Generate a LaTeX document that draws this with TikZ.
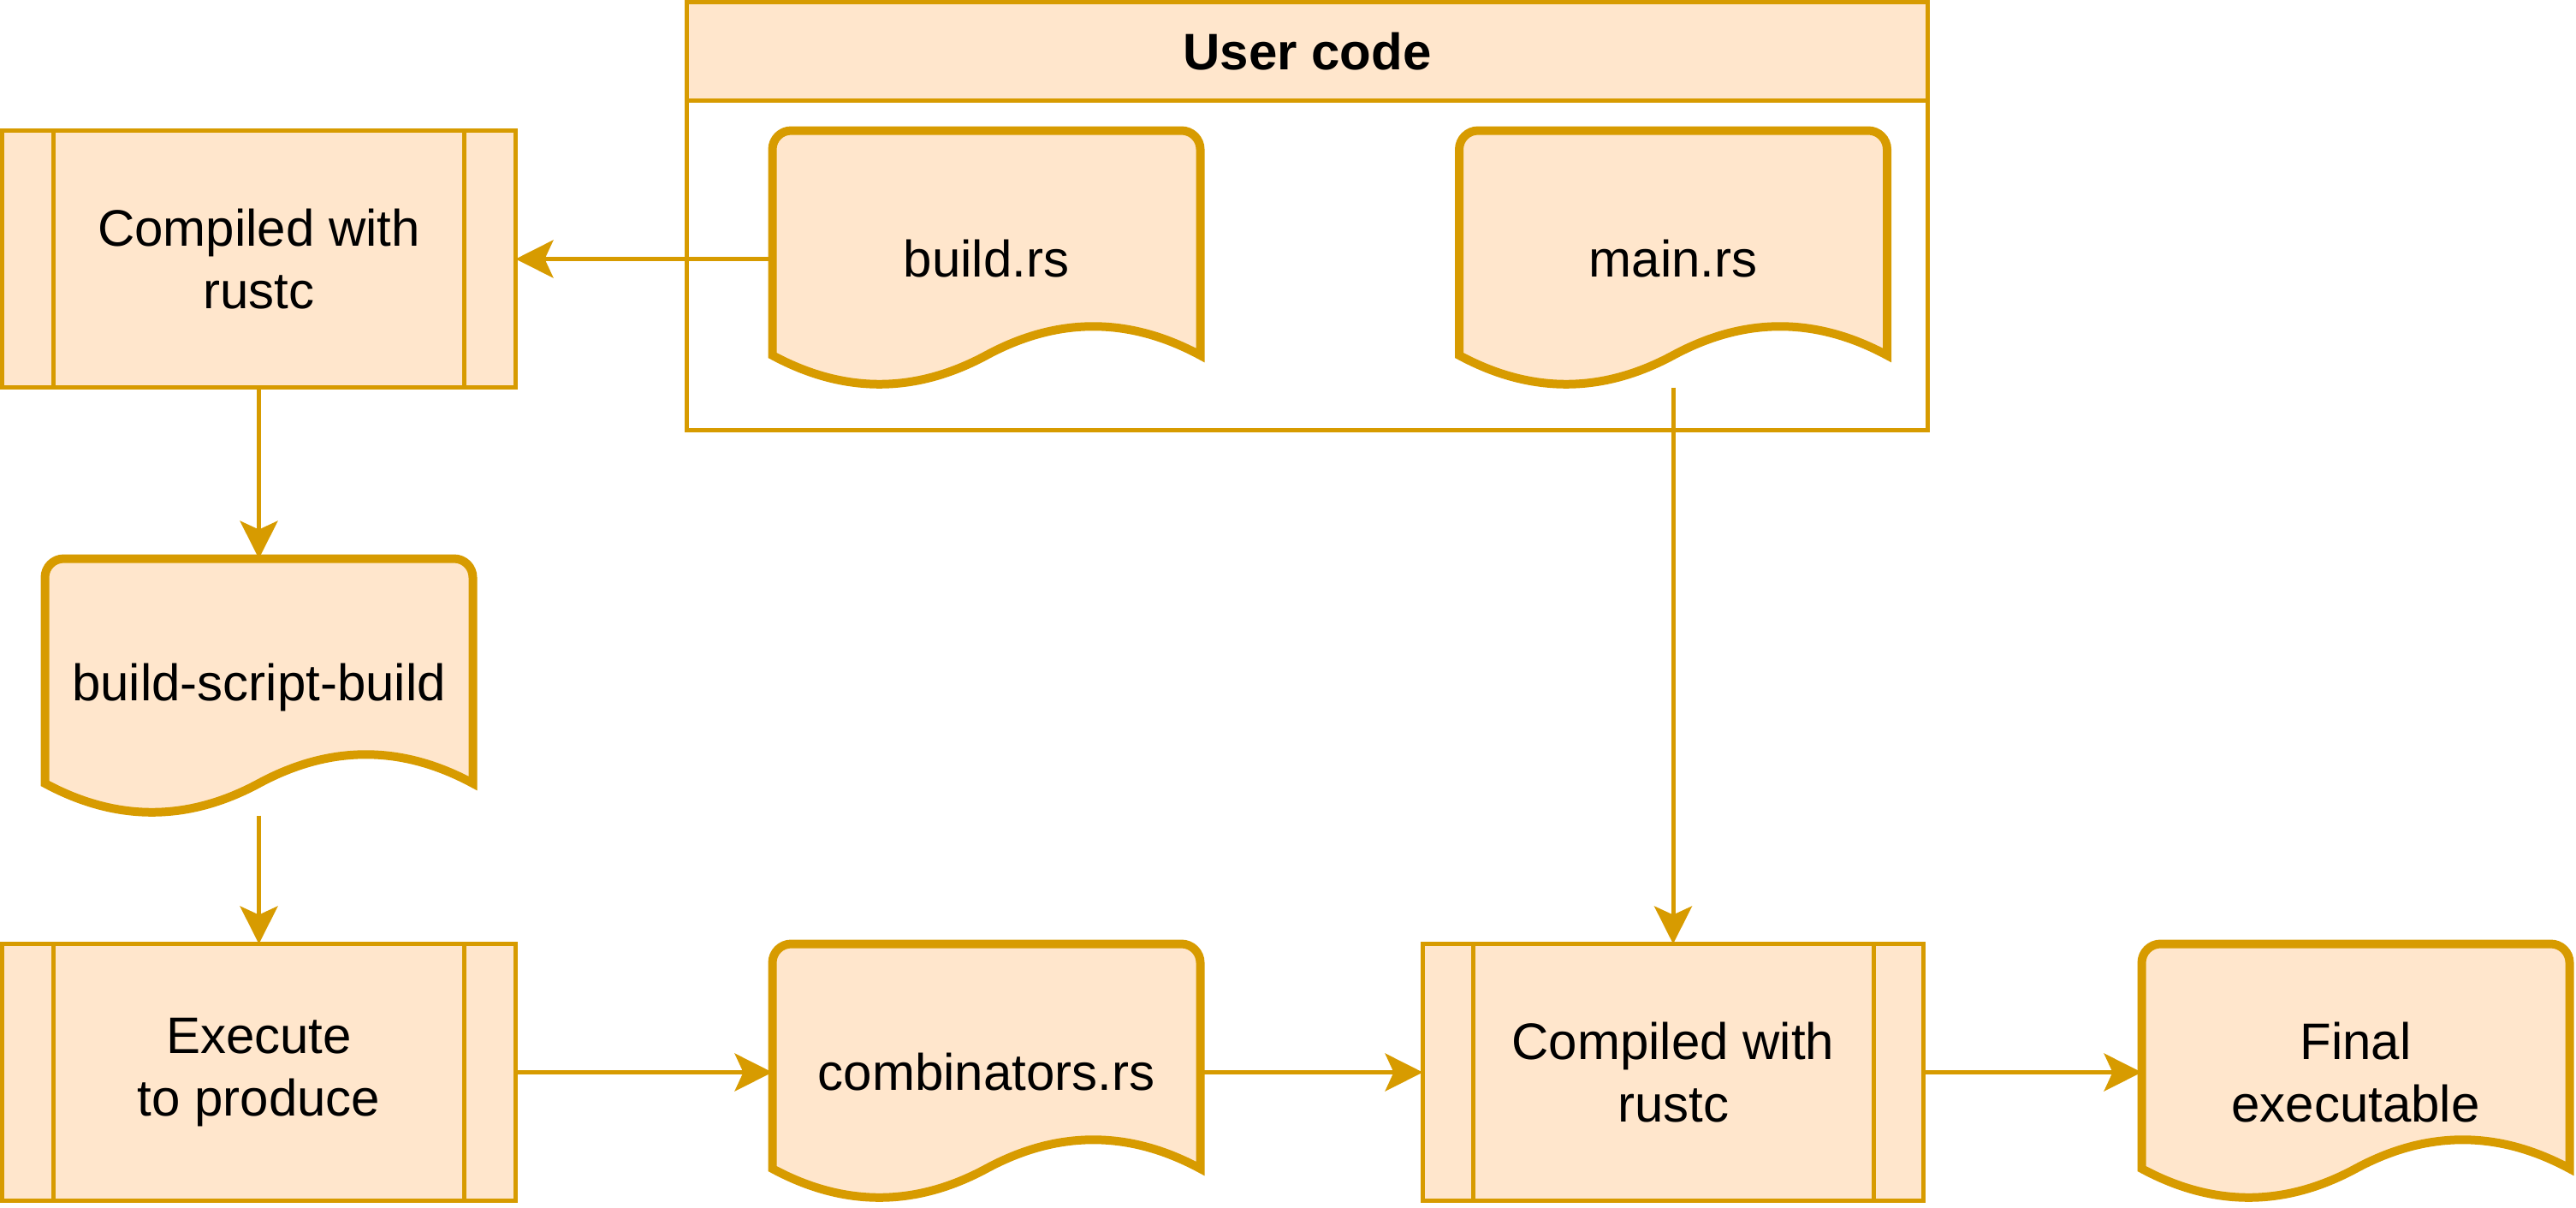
\documentclass[tikz,border=0pt]{standalone}
\usepackage{fontspec}
\setmainfont{Liberation Sans}
\usepackage{tikz}
\usetikzlibrary{arrows.meta,calc,backgrounds}

\definecolor{peach}{HTML}{FFE6CC}
\definecolor{ochre}{HTML}{D79B00}

\newcommand\diagfont{\fontsize{17.07pt}{20.8pt}\selectfont}
\newcommand\docoutline[1]{%
  \draw[docline, shift={(#1.north west)}]
    (0,52.5) [rounded corners=0.22cm] -- (0,0) -- (100,0) [sharp corners] -- (100,52.5)
    .. controls (83.33,43.5) and (66.67,43.5) .. (50,52.5)
    .. controls (33.33,61.5) and (16.67,61.5) .. (0,52.5) -- cycle;}

\begin{document}
\begin{tikzpicture}[x=0.05cm, y=-0.05cm,
  every node/.style={font=\diagfont, outer sep=0pt, align=center},
  procbox/.style={draw=ochre, fill=peach, line width=0.05cm,
    minimum width=6cm, minimum height=3cm,
    path picture={
      \draw[ochre, line width=0.05cm]
        ($(path picture bounding box.north west)!0.1!(path picture bounding box.north east)$) --
        ($(path picture bounding box.south west)!0.1!(path picture bounding box.south east)$)
        ($(path picture bounding box.north west)!0.9!(path picture bounding box.north east)$) --
        ($(path picture bounding box.south west)!0.9!(path picture bounding box.south east)$);}},
  docnode/.style={minimum width=5cm, minimum height=3cm, inner sep=0pt},
  docline/.style={draw=ochre, fill=peach, line width=0.1cm},
  arr/.style={draw=ochre, line width=0.05cm,
    -{Stealth[length=0.44cm, width=0.44cm, inset=0.1cm]}}]
  \useasboundingbox (-0.5,-0.5) rectangle (601.5,281.5);

  \node[draw=ochre, line width=0.05cm, minimum width=14.5cm, minimum height=5cm] (user) at (305,50) {};
  \node[draw=ochre, fill=peach, line width=0.05cm, minimum width=14.5cm, minimum height=1.15cm,
    font=\diagfont\bfseries] (userhead) at (305,11.5) {User code};

  \node[procbox] (compA) at (60,60) {Compiled with\\rustc};
  \node[docnode] (build) at (230,60) {build.rs};
  \node[docnode] (main) at (390.5,60) {main.rs};
  \node[docnode] (bsb) at (60,160) {build-script-build};
  \node[procbox] (exec) at (60,250) {Execute\\to produce};
  \node[docnode] (comb) at (230,250) {combinators.rs};
  \node[procbox, minimum width=5.85cm] (compB) at (390.5,250) {Compiled with\\rustc};
  \node[docnode] (final) at (550,250) {Final\\executable};

  \begin{scope}[on background layer]
    \docoutline{build}
    \docoutline{main}
    \docoutline{bsb}
    \docoutline{comb}
    \docoutline{final}
  \end{scope}

  \draw[arr] (build.west) -- (compA.east);
  \draw[arr] (compA.south) -- (bsb.north);
  \draw[arr] (bsb.south) -- (exec.north);
  \draw[arr] (exec.east) -- (comb.west);
  \draw[arr] (comb.east) -- (compB.west);
  \draw[arr] (compB.east) -- (final.west);
  \draw[arr] (main.south) -- (compB.north);
\end{tikzpicture}
\end{document}
